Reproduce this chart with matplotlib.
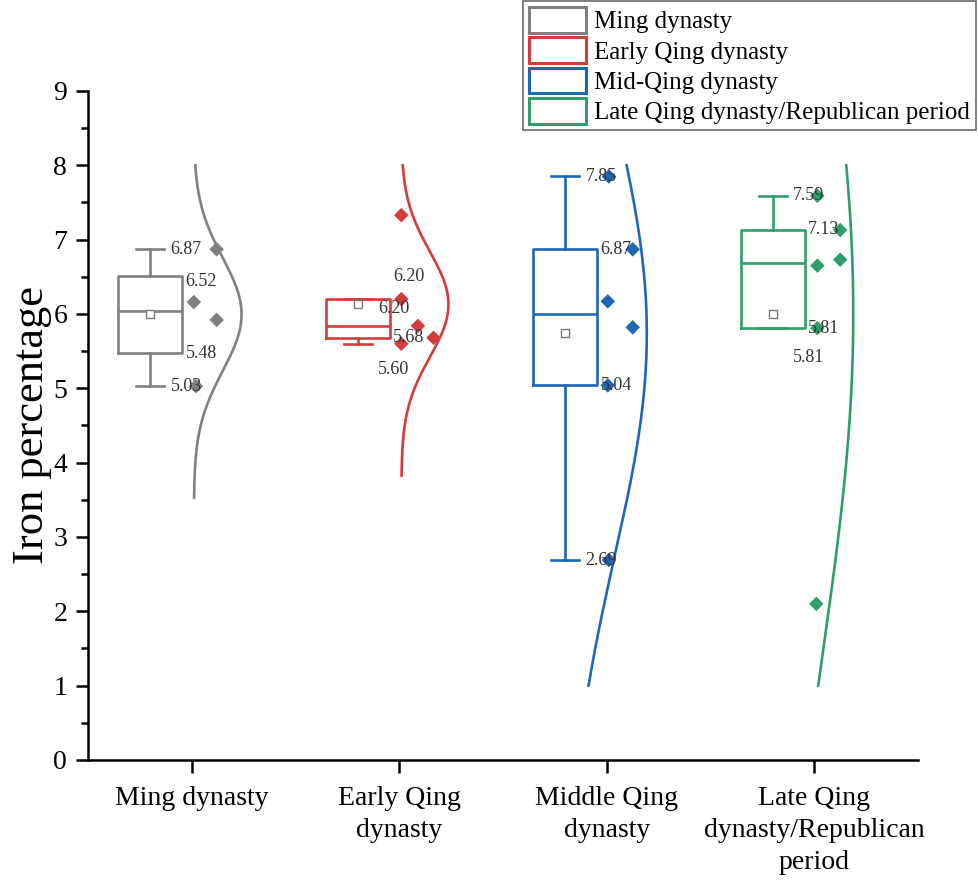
import numpy as np
import matplotlib
matplotlib.use("Agg")
import matplotlib.pyplot as plt
from matplotlib.patches import Patch

plt.rcParams["font.family"] = ["Liberation Serif", "DejaVu Serif"]

# ---- data -------------------------------------------------------------
categories = ["Ming dynasty", "Early Qing\ndynasty", "Middle Qing\ndynasty",
              "Late Qing\ndynasty/Republican\nperiod"]
legend_names = ["Ming dynasty", "Early Qing dynasty", "Mid-Qing dynasty",
                "Late Qing dynasty/Republican period"]

ming = [6.87, 6.16, 5.92, 5.03]
early_qing = [7.33, 6.20, 5.84, 5.68, 5.60]
middle_qing = [7.85, 6.87, 6.17, 5.82, 5.04, 2.69]
late_qing = [7.59, 7.13, 6.73, 6.65, 5.81, 2.10]
groups = [ming, early_qing, middle_qing, late_qing]

# horizontal placement of the individual points beside each box
point_shift = [
    [0.12, 0.01, 0.12, 0.02],
    [0.01, 0.01, 0.09, 0.165, 0.01],
    [0.01, 0.125, 0.005, 0.125, 0.005, 0.01],
    [0.015, 0.125, 0.125, 0.015, 0.015, 0.01],
]

# distribution curve layout: baseline offset, width, spread relative to sd
curve_base = [0.01, 0.01, -0.2, -0.2]
curve_width = [0.23, 0.227, 0.393, 0.388]
curve_spread = [1.0, 1.0, 1.69, 2.34]

colors = ["#808080", "#d63b3b", "#1f66b5", "#2f9e68"]

# ---- helpers ----------------------------------------------------------
def tukey_stats(vals):
    v = np.sort(np.asarray(vals, float))
    n = len(v)
    med = np.median(v)
    half = (n + 1) // 2
    lower, upper = v[:half], v[n - half:]
    q1, q3 = np.median(lower), np.median(upper)
    iqr = q3 - q1
    inside = v[(v >= q1 - 1.5 * iqr) & (v <= q3 + 1.5 * iqr)]
    return dict(med=med, q1=q1, q3=q3, whislo=inside.min(),
                whishi=inside.max(), mean=v.mean(), fliers=[])


def fmt(x):
    return f"{x + 1e-9:.2f}"

# ---- figure -----------------------------------------------------------
fig = plt.figure(figsize=(9.79, 8.8), dpi=100)
ax = fig.add_axes([0.0899, 0.1364, 0.8478, 0.7602])

positions = np.arange(1, len(groups) + 1)
box_offset = -0.2
box_width = 0.31
cap_width = 0.135

label_nudge = {
    0: dict(hi=0.0, q3=-0.08, q1=0.0, lo=0.0),
    1: dict(hi=-0.12, q3=0.31, q1=0.0, lo=-0.35),
    2: dict(hi=0.0, q3=0.0, q1=0.0, lo=0.0),
    3: dict(hi=0.0, q3=0.0, q1=0.0, lo=-0.39),
}

for i, (vals, pos, col) in enumerate(zip(groups, positions, colors)):
    st = tukey_stats(vals)
    bpos = pos + box_offset
    ax.bxp([st], positions=[bpos], widths=box_width, capwidths=cap_width,
           showmeans=True, showfliers=False, patch_artist=False,
           boxprops=dict(color=col, lw=1.9),
           whiskerprops=dict(color=col, lw=1.9),
           capprops=dict(color=col, lw=1.9),
           medianprops=dict(color=col, lw=1.9),
           meanprops=dict(marker="s", markersize=6, markerfacecolor="white",
                          markeredgecolor="#777777", markeredgewidth=1.0))

    # individual measurements
    ax.scatter(pos + np.array(point_shift[i]), vals, marker="D", s=55,
               color=col, edgecolors="none", zorder=4)

    # normal curve from the group mean and standard deviation
    m = np.mean(vals)
    s = np.std(vals, ddof=1)
    lo = max(1.0, m - 3.25 * s)
    hi = min(8.0, m + 3.25 * s)
    yy = np.linspace(lo, hi, 300)
    sc = s * curve_spread[i]
    xx = pos + curve_base[i] + curve_width[i] * np.exp(-0.5 * ((yy - m) / sc) ** 2)
    ax.plot(xx, yy, color=col, lw=1.9, zorder=3)

    # value labels for whiskers and box edges
    cap_r = bpos + cap_width / 2 + 0.03
    box_r = bpos + box_width / 2 + 0.015
    lab = dict(fontsize=13, color="#333333", va="center", ha="left", zorder=5)
    nud = label_nudge[i]
    ax.text(cap_r, st["whishi"] + nud["hi"], fmt(st["whishi"]), **lab)
    ax.text(box_r, st["q3"] + nud["q3"], fmt(st["q3"]), **lab)
    ax.text(box_r, st["q1"] + nud["q1"], fmt(st["q1"]), **lab)
    ax.text(cap_r, st["whislo"] + nud["lo"], fmt(st["whislo"]), **lab)

# ---- axes styling ------------------------------------------------------
ax.set_xlim(0.5, 4.5)
ax.set_ylim(0, 9)
ax.set_xticks(positions)
ax.set_xticklabels(categories, fontsize=20, linespacing=1.36)
ax.set_yticks(np.arange(0, 10, 1))
ax.set_yticks(np.arange(0.5, 9, 1), minor=True)
ax.tick_params(axis="y", which="major", labelsize=20, length=9, width=1.8,
               direction="out", pad=6)
ax.tick_params(axis="y", which="minor", length=5, width=1.8, direction="out")
ax.tick_params(axis="x", which="major", length=9, width=1.8, direction="out",
               pad=10)
for side in ("top", "right"):
    ax.spines[side].set_visible(False)
for side in ("left", "bottom"):
    ax.spines[side].set_linewidth(1.8)
ax.set_ylabel("Iron percentage", fontsize=32, labelpad=1)

handles = [Patch(facecolor="white", edgecolor=c, lw=2.2) for c in colors]
leg = fig.legend(handles, legend_names, loc="upper right",
                 bbox_to_anchor=(0.997, 0.999), fontsize=18, frameon=True,
                 fancybox=False, edgecolor="#444444", handlelength=2.3,
                 handleheight=1.2, labelspacing=0.16, handletextpad=0.3,
                 borderpad=0.25, borderaxespad=0.0)
leg.get_frame().set_linewidth(1.2)

fig.savefig("out.png", dpi=100, facecolor="white")
